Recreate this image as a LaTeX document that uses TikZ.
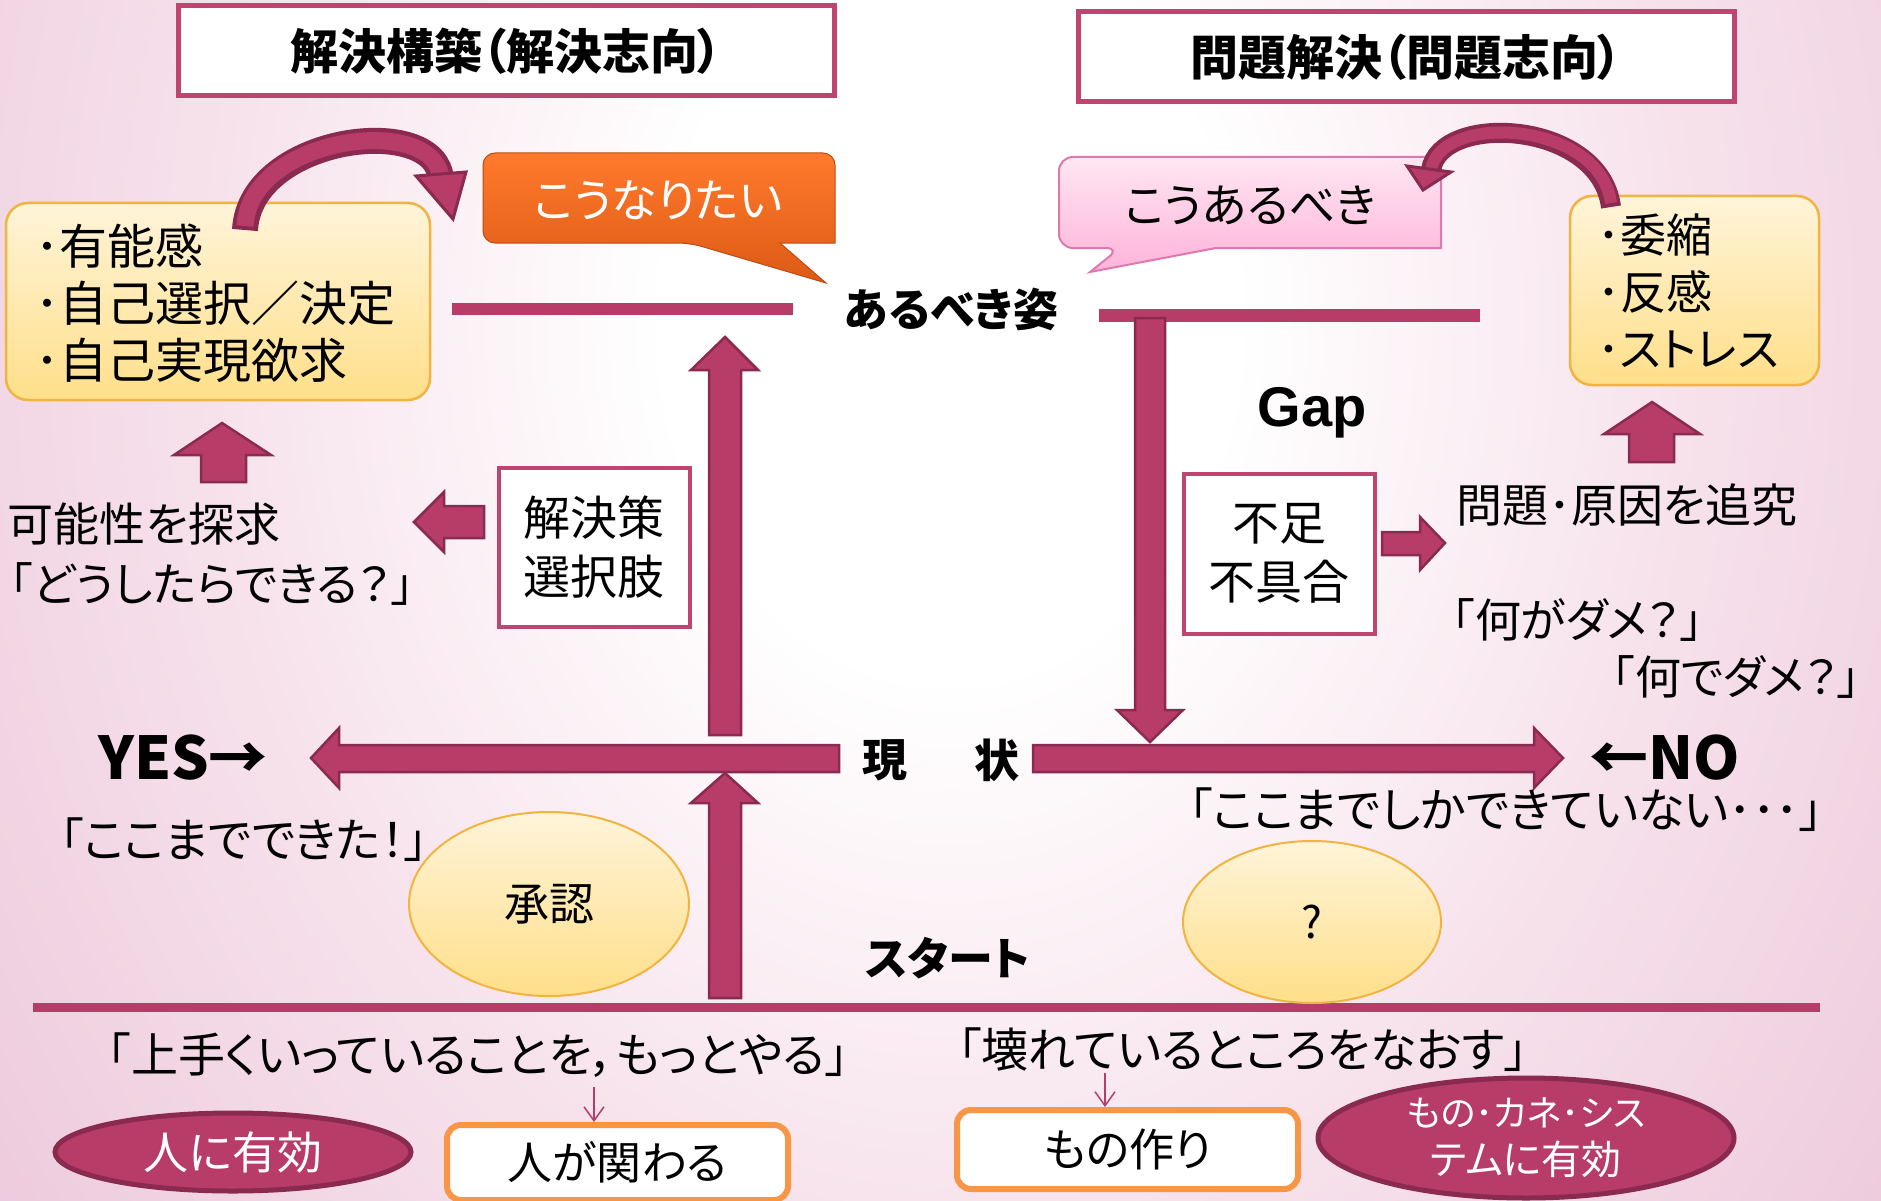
\documentclass[tikz,border=0pt]{standalone}
\usepackage{fontspec}
\usetikzlibrary{shapes.geometric,arrows.meta}
\newfontfamily\jp[RawFeature=+palt]{Noto Sans CJK JP}
\newfontfamily\latf{Liberation Sans}
\definecolor{mag}{HTML}{B83C68}
\definecolor{magd}{HTML}{8A2A50}
\definecolor{boxb}{HTML}{C0446F}
\definecolor{yelT}{HTML}{FFF4D9}
\definecolor{yelB}{HTML}{FFDF8A}
\definecolor{yelE}{HTML}{F2B441}
\definecolor{orT}{HTML}{FF7A2C}
\definecolor{orB}{HTML}{DD5A16}
\definecolor{pkT}{HTML}{FFE6F2}
\definecolor{pkB}{HTML}{FFB3DA}
\definecolor{pkE}{HTML}{DE78AE}
\definecolor{orE}{HTML}{F79646}
\definecolor{bgA}{HTML}{F7E3EC}
\definecolor{bgB}{HTML}{EDCADD}
\definecolor{bgC}{HTML}{E7B2CD}
\definecolor{bgD}{HTML}{E2A4C6}
\pgfdeclareradialshading{bgshade}{\pgfpoint{0bp}{0bp}}{color(0bp)=(white); color(6bp)=(white); color(15bp)=(bgA); color(25bp)=(bgB); color(37bp)=(bgC); color(46bp)=(bgD); color(50bp)=(bgD)}
\tikzset{
  jpt/.style={inner sep=0pt, outer sep=0pt},
  fr46/.style={jpt, font=\jp\fontsize{46}{57}\selectfont},
  fr47/.style={jpt, font=\jp\fontsize{47}{58}\selectfont},
  fb45/.style={jpt, font=\jp\bfseries\fontsize{45}{56}\selectfont},
  fb59/.style={jpt, font=\jp\bfseries\fontsize{59}{70}\selectfont},
  titlebox/.style={draw=boxb, line width=5, fill=white, minimum width=656, minimum height=90, inner sep=0pt, font=\jp\bfseries\fontsize{48}{56}\selectfont},
  ybox/.style={draw=yelE, line width=2.5, top color=yelT, bottom color=yelB, rounded corners=22, inner sep=0pt},
  yell/.style={ellipse, draw=yelE, line width=2, top color=yelT, bottom color=yelB, inner sep=0pt},
  magell/.style={ellipse, fill=mag, draw=magd, line width=5, inner sep=0pt, text=white},
  wbox/.style={draw=boxb, line width=4, fill=white, minimum width=191, minimum height=159, inner sep=0pt, align=center, font=\jp\fontsize{47}{59}\selectfont},
  obox/.style={draw=orE, line width=6, fill=white, rounded corners=14, minimum width=341, inner sep=0pt, font=\jp\fontsize{45}{56}\selectfont},
  blk/.style={fill=mag, draw=magd, line width=2.5, line join=miter},
  bar/.style={draw=mag, line cap=butt},
  thinarr/.style={draw=mag, line width=1.5, -{Straight Barb[length=14pt,width=20pt]}},
}
\begin{document}
\begin{tikzpicture}[x=1pt,y=-1pt]
\useasboundingbox (0,0) rectangle (1881,1201);
% background
\begin{scope}
\clip (0,0) rectangle (1881,1201);
\shade[shading=bgshade] (950,320) ellipse [x radius=1200, y radius=1500];
\end{scope}

% titles
\node[titlebox] (t1) at (506,51) {解決構築（解決志向）};
\node[titlebox] (t2) at (1406,57) {問題解決（問題志向）};

% yellow boxes
\node[ybox, minimum width=424, minimum height=197] (yb1) at (218,301.5) {};
\node[jpt, font=\jp\fontsize{48}{57}\selectfont, align=left, anchor=west] (yt1) at (35,303) {･有能感\\･自己選択／決定\\･自己実現欲求};
\node[ybox, minimum width=249, minimum height=189] (yb2) at (1694.5,290.5) {};
\node[fr46, align=left, anchor=west] (yt2) at (1597,291) {･委縮\\･反感\\･ストレス};

% callouts
\shade[top color=orT, bottom color=orB, draw=orB!85!black, line width=1]
  (650,153) [rounded corners=12] -- (483,153) -- (483,243) -- (690,243) [sharp corners] -- (826,283) -- (780,243) -- (835,243) [rounded corners=12] -- (835,153) -- cycle;
\node[fr46, text=white] (cw) at (658,200) {こうなりたい};
\shade[top color=pkT, bottom color=pkB, draw=pkE, line width=2]
  (1250,157) [rounded corners=14] -- (1059,157) -- (1059,248) -- (1120,248) [sharp corners] -- (1090,272) -- (1216,248) -- (1441,248) [rounded corners=14] -- (1441,157) -- cycle;
\node[fr46] (cs) at (1250,205) {こうあるべき};

% curved arrows
\draw[line width=26, magd] (245,230) .. controls (250,135) and (438,112) .. (441,180);
\draw[line width=17, mag] (245,226) .. controls (250,135) and (438,112) .. (441,180);
\draw[blk, line width=3] (416,176) -- (466,172) -- (453,219) -- cycle;
\draw[line width=20, magd] (1611,207) .. controls (1600,120) and (1440,112) .. (1431,170);
\draw[line width=12, mag] (1611,203) .. controls (1600,120) and (1440,112) .. (1431,170);
\draw[blk, line width=3] (1407,166) -- (1451,172) -- (1423,190) -- cycle;

% bars
\draw[bar, line width=12] (452,309) -- (793,309);
\draw[bar, line width=13] (1099,315) -- (1480,315);
\draw[bar, line width=9] (33,1007) -- (1820,1007);

% block arrows
\draw[blk] (201,482) -- (201,455) -- (174,455) -- (222,423) -- (271,455) -- (246,455) -- (246,482) -- cycle;
\draw[blk] (1629,462) -- (1629,434) -- (1604,434) -- (1652,402) -- (1700,434) -- (1674,434) -- (1674,462) -- cycle;
\draw[blk] (484,506) -- (444,506) -- (444,492) -- (414,522) -- (444,552) -- (444,538) -- (484,538) -- cycle;
\draw[blk] (1382,532) -- (1420,532) -- (1420,517) -- (1445,543) -- (1420,570) -- (1420,555) -- (1382,555) -- cycle;
\draw[blk] (709,735) -- (709,370) -- (691,370) -- (725,337) -- (758,370) -- (741,370) -- (741,735) -- cycle;
\draw[blk] (709,998) -- (709,803) -- (691,803) -- (725,773) -- (758,803) -- (741,803) -- (741,998) -- cycle;
\draw[blk] (839,745) -- (339,745) -- (339,728) -- (311,758) -- (339,788) -- (339,772) -- (839,772) -- cycle;
\draw[blk] (1033,745) -- (1534,745) -- (1534,728) -- (1563,758) -- (1534,788) -- (1534,772) -- (1033,772) -- cycle;
\draw[blk] (1135,318) -- (1165,318) -- (1165,710) -- (1183,710) -- (1150,742) -- (1117,710) -- (1135,710) -- cycle;

% texts
\node[fb45] (asp) at (951,309) {あるべき姿};
\node[jpt, font=\latf\bfseries\fontsize{56}{66}\selectfont, anchor=base] (gap) at (1312,426) {Gap};
\node[fr46, anchor=west] (kan) at (8,524) {可能性を探求};
\node[fr46, anchor=west] (dou) at (10,584) {「どうしたらできる？」};
\node[wbox] (sol) at (594,547) {解決策\\選択肢};
\node[wbox, minimum height=160] (lack) at (1279,553.5) {不足\\不具合};
\node[fr46, anchor=west] (tsu) at (1456,505) {問題･原因を追究};
\node[fr46, anchor=west] (nani1) at (1452,620) {「何がダメ？」};
\node[fr46, anchor=west] (nani2) at (1612,677) {「何でダメ？」};
\node[fb59] (yes) at (183,758) {YES→};
\node[fb45] (gen) at (885,760) {現};
\node[fb45] (jou) at (997,760) {状};
\node[fb59] (no) at (1665,758) {←NO};
\node[fr47] (shika) at (1506,810) {「ここまでしかできていない･･･」};
\node[fr47] (dekita) at (244,840) {「ここまでできた！」};
\node[yell, minimum width=280, minimum height=184, font=\jp\fontsize{45}{56}\selectfont] (shounin) at (549,904) {承認};
\node[fb45] (start) at (948,958) {スタート};
\node[yell, minimum width=258, minimum height=162, font=\jp\fontsize{44}{54}\selectfont] (q) at (1312,922) {?};
\node[fr47] (umaku) at (478,1055) {「上手くいっていることを，もっとやる」};
\node[fr47] (kowa) at (1243,1050) {「壊れているところをなおす」};
\node[magell, minimum width=356, minimum height=78, font=\jp\fontsize{45}{56}\selectfont] (hito) at (233,1152) {人に有効};
\node[obox, minimum height=75] (kakawaru) at (617.5,1162.5) {人が関わる};
\node[obox, minimum height=79] (mono) at (1127.5,1149.5) {もの作り};
\node[magell, minimum width=416, minimum height=120, align=center, font=\jp\fontsize{36}{48}\selectfont] (sys) at (1526,1138) {もの･カネ･シス\\{\fontsize{40}{48}\selectfont テムに有効}};

% thin arrows
\coordinate (a1) at (594,1087);
\draw[thinarr] (a1) -- (a1 |- kakawaru.north);
\coordinate (a2) at (1105,1073);
\draw[thinarr] (a2) -- (a2 |- mono.north);
\end{tikzpicture}
\end{document}
